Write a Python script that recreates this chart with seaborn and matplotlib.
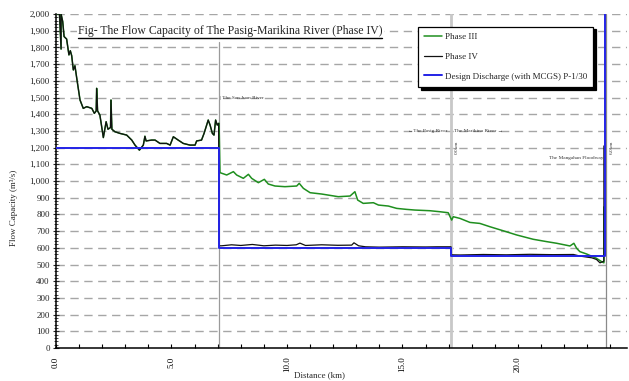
import seaborn as sns
import matplotlib.pyplot as plt
import numpy as np
from matplotlib.ticker import MultipleLocator, FuncFormatter

sns.set_theme(style="white")
plt.rcParams["font.family"] = ["Liberation Serif", "DejaVu Serif"]

# data (distance in km, flow capacity in m3/s)
p4_upper_km = [0.0, 0.15, 0.22, 0.22, 0.29, 0.35, 0.46, 0.56, 0.62, 0.68, 0.75, 0.82, 0.92,
               1.04, 1.18, 1.33, 1.55, 1.66, 1.74, 1.76, 1.8, 1.9, 2.0, 2.05, 2.17, 2.25,
               2.36, 2.38, 2.42, 2.55, 2.77, 3.06, 3.28, 3.42, 3.61, 3.78, 3.85, 3.9,
               4.14, 4.29, 4.5, 4.79, 4.94, 5.08, 5.29, 5.51, 5.8, 6.02, 6.09, 6.3, 6.41,
               6.59, 6.67, 6.77, 6.84, 6.91, 6.98, 7.04]
p4_upper_q = [2000, 2000, 1790, 2000, 1955, 1865, 1850, 1755, 1780, 1750, 1665, 1690, 1595,
              1485, 1435, 1445, 1435, 1405, 1420, 1555, 1420, 1395, 1305, 1260, 1355, 1310,
              1320, 1485, 1310, 1295, 1285, 1275, 1245, 1215, 1185, 1215, 1268, 1240,
              1245, 1245, 1225, 1225, 1215, 1265, 1245, 1225, 1215, 1215, 1240, 1245, 1285,
              1365, 1335, 1285, 1275, 1365, 1335, 1345]

p4_lower_km = [7.06, 7.17, 7.6, 8.0, 8.5, 9.0, 9.5, 10.0, 10.4, 10.56, 10.8, 11.5, 12.2,
               12.8, 12.9, 13.1, 13.4, 14.0, 15.0, 16.0, 16.5, 17.1, 17.1, 17.5, 18.5,
               19.5, 20.5, 21.5, 22.4, 22.7, 22.95, 23.2, 23.4, 23.55, 23.72, 23.72]
p4_lower_q = [612, 612, 618, 614, 620, 612, 616, 614, 618, 628, 614, 618, 615,
              616, 630, 612, 606, 604, 606, 605, 606, 606, 558, 557, 560,
              558, 561, 559, 560, 550, 545, 540, 530, 510, 520, 1210]

p3_km = [7.06, 7.1, 7.39, 7.68, 7.82, 8.11, 8.33, 8.47, 8.76, 9.02, 9.19, 9.48, 9.91, 10.42,
         10.53, 10.71, 11.0, 11.5, 12.22, 12.73, 12.94, 13.06, 13.3, 13.74, 13.96, 14.39,
         14.75, 15.18, 15.54, 16.19, 16.62, 16.98, 17.13, 17.2, 17.49, 17.92, 18.35, 18.79,
         19.36, 19.94, 20.66, 21.24, 21.68, 22.25, 22.42, 22.54, 22.68, 22.97, 23.4, 23.62,
         23.72, 23.72]
p3_q = [1345, 1050, 1036, 1056, 1036, 1016, 1040, 1016, 990, 1010, 982, 970, 966, 970,
        986, 956, 930, 922, 906, 910, 936, 886, 866, 870, 856, 850,
        836, 830, 826, 822, 816, 810, 766, 786, 776, 752, 746, 726,
        702, 677, 651, 637, 627, 611, 627, 597, 577, 563, 537, 517,
        510, 845]

design_km = [0.0, 7.06, 7.06, 17.1, 17.1, 23.78, 23.78]
design_q = [1200, 1200, 600, 600, 550, 550, 2000]

# reference sections
san_juan_km = 7.06
pasig_marikina_km = 17.1
mangahan_km = 23.82

fig = plt.figure(figsize=(6.29, 3.81), dpi=100)
ax = fig.add_axes([56 / 629, 33 / 381, 571 / 629, 334 / 381])

# horizontal dashed grid
for q in range(100, 2001, 100):
    ax.axhline(q, color="#a6a6a6", lw=1.0, ls=(0, (6, 4)), zorder=0)

ax.axvline(san_juan_km, ymax=0.915, color="#9a9a9a", lw=0.9, zorder=1)
ax.axvline(pasig_marikina_km, color="#c8c8c8", lw=2.0, zorder=1)
ax.axvline(mangahan_km, color="#8a8a8a", lw=0.9, zorder=1)

p3_all_km = p4_upper_km + p3_km
p3_all_q = p4_upper_q + p3_q
sns.lineplot(x=p3_all_km, y=p3_all_q, sort=False, estimator=None, ax=ax,
             color="#1f8f1f", lw=1.1, label="Phase III", zorder=3)
sns.lineplot(x=p4_upper_km + p4_lower_km, y=p4_upper_q + p4_lower_q, sort=False,
             estimator=None, ax=ax, color="#111111", lw=0.9, label="Phase IV", zorder=4)
sns.lineplot(x=design_km, y=design_q, sort=False, estimator=None, ax=ax,
             color="#2323e6", lw=1.4, label="Design Discharge (with MCGS) P-1/30", zorder=5)

ax.set_xlim(0, 24.72)
ax.set_ylim(0, 2000)

for s in ["top", "right"]:
    ax.spines[s].set_visible(False)
for s in ["left", "bottom"]:
    ax.spines[s].set_color("black")
    ax.spines[s].set_linewidth(1.1)

ax.xaxis.set_major_locator(MultipleLocator(5))
ax.xaxis.set_minor_locator(MultipleLocator(1))
ax.yaxis.set_major_locator(MultipleLocator(100))
ax.yaxis.set_minor_locator(MultipleLocator(20))
ax.xaxis.set_major_formatter(FuncFormatter(lambda v, p: f"{v:.1f}"))
ax.yaxis.set_major_formatter(FuncFormatter(lambda v, p: f"{int(v):,}"))
ax.tick_params(axis="x", which="both", direction="in", length=3, width=0.8,
               labelsize=6.5, labelrotation=90, pad=6, bottom=True, colors="black")
ax.tick_params(axis="y", which="major", direction="inout", length=5, width=0.8,
               labelsize=6.5, left=True, pad=2)
ax.tick_params(axis="y", which="minor", direction="inout", length=3, width=0.6, left=True)

ax.set_xlabel("Distance (km)", fontsize=6.5)
ax.set_ylabel("Flow Capacity (m³/s)", fontsize=6.5)
ax.xaxis.set_label_coords(0.462, -0.070)
ax.yaxis.set_label_coords(-0.066, 0.42)

leg = ax.legend(loc="upper left", bbox_to_anchor=(0.634, 0.962), fontsize=6.5,
                frameon=True, fancybox=False, shadow={"color": "black", "alpha": 1},
                borderpad=0.7, labelspacing=1.25, handlelength=2.0, handletextpad=0.25,
                borderaxespad=0)
leg.get_frame().set_edgecolor("black")
leg.get_frame().set_linewidth(0.9)

title = ax.text(0.95, 1900, "Fig- The Flow Capacity of The Pasig-Marikina River (Phase IV)",
                fontsize=8.45, va="center", ha="left", zorder=6,
                bbox=dict(facecolor="white", edgecolor="none", pad=1.0))
fig.canvas.draw()
bb = title.get_window_extent().transformed(ax.transData.inverted())
ax.plot([bb.x0, bb.x1], [bb.y0 - 8, bb.y0 - 8], color="black", lw=1.0, zorder=7)

small = dict(fontsize=3.8, color="#333333", zorder=6)
ax.text(7.12, 1500, "| The San Juan River", va="center", ha="left", **small)
ax.text(16.95, 1300, "←The Pasig River", va="center", ha="right", **small)
ax.text(17.25, 1300, "The Marikina River →", va="center", ha="left", **small)
ax.text(17.37, 1200, "0.0km", va="center", ha="center", rotation=90, **small)
ax.text(23.7, 1140, "The Mangahan Floodway", va="center", ha="right", **small)
ax.text(24.07, 1200, "6.0km", va="center", ha="center", rotation=90, **small)

plt.savefig("out.png", dpi=100)
